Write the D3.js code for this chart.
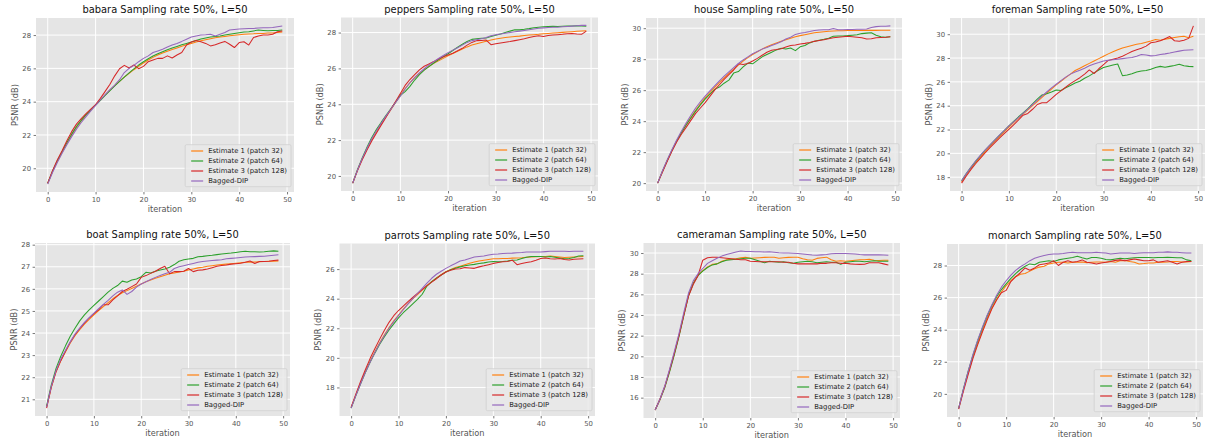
<!DOCTYPE html>
<html><head><meta charset="utf-8">
<script src="https://cdn.jsdelivr.net/npm/d3@7"></script>
<style>body{margin:0;background:#fff}svg{display:block}</style>
</head><body>
<svg id="chart" width="1206" height="444"></svg>
<script>
// ---------- DATA ----------
const iterations = [0,1,2,3,4,5,6,7,8,9,10,11,12,13,14,15,16,17,18,19,20,21,22,23,24,25,26,27,28,29,30,31,32,33,34,35,36,37,38,39,40,41,42,43,44,45,46,47,48,49];
const seriesNames = ["Estimate 1 (patch 32)","Estimate 2 (patch 64)","Estimate 3 (patch 128)","Bagged-DIP"];
const xTicks = [0,10,20,30,40,50];

const babara_e1 = [19.1,19.8,20.4,20.95,21.5,22.0,22.45,22.85,23.2,23.5, 23.8,24.1,24.4,24.7,24.97,25.22,25.47,25.7,25.92,26.12, 26.32,26.5,26.66,26.8,26.92,27.03,27.13,27.23,27.33,27.42, 27.5,27.58,27.66,27.72,27.78,27.84,27.88,27.92,27.96,27.99, 28.02,28.05,28.07,28.08,28.1,28.1,28.12,28.12,28.15,28.18];
const babara_e2 = [19.1,19.82,20.45,21.0,21.55,22.05,22.5,22.88,23.22,23.52, 23.8,24.08,24.38,24.67,24.95,25.22,25.48,25.73,25.97,26.2, 26.4,26.58,26.74,26.88,27.0,27.12,27.22,27.32,27.42,27.5, 27.58,27.68,27.76,27.82,27.88,27.92,27.95,28.0,28.05,28.1, 28.14,28.18,28.2,28.25,28.3,28.28,28.26,28.27,28.28,28.3];
const babara_e3 = [19.1,19.85,20.5,21.05,21.65,22.2,22.65,22.98,23.28,23.55, 23.82,24.2,24.62,25.05,25.55,25.98,26.18,26.02,26.2,25.98, 26.12,26.4,26.5,26.6,26.6,26.75,26.62,26.8,26.95,27.4, 27.58,27.68,27.6,27.5,27.35,27.42,27.52,27.62,27.45,27.25, 27.55,27.6,27.4,27.85,27.95,28.0,28.0,28.05,28.2,28.25];
const babara_bag = [19.05,19.75,20.35,20.9,21.42,21.9,22.35,22.75,23.1,23.45, 23.78,24.1,24.42,24.72,25.0,25.32,25.75,26.0,26.18,26.4, 26.6,26.75,26.95,27.05,27.15,27.28,27.4,27.5,27.62,27.75, 27.88,27.95,28.0,28.02,28.05,27.95,28.05,28.15,28.3,28.33, 28.36,28.38,28.4,28.4,28.42,28.44,28.44,28.45,28.5,28.55];

const peppers_e1 = [19.6,20.3,20.95,21.5,22.0,22.45,22.9,23.3,23.7,24.1, 24.5,24.88,25.2,25.48,25.72,25.92,26.12,26.28,26.42,26.56, 26.7,26.83,26.96,27.08,27.2,27.3,27.38,27.45,27.52,27.58, 27.64,27.68,27.72,27.75,27.78,27.8,27.83,27.86,27.88,27.9, 27.93,27.95,27.97,27.99,28.01,28.03,28.05,28.07,28.09,28.1];
const peppers_e2 = [19.6,20.35,21.0,21.6,22.15,22.6,23.0,23.38,23.75,24.12, 24.5,24.7,25.0,25.35,25.65,25.9,26.1,26.3,26.48,26.65, 26.82,27.0,27.18,27.35,27.5,27.62,27.65,27.68,27.7,27.78, 27.85,27.92,28.0,28.08,28.15,28.15,28.18,28.22,28.27,28.3, 28.32,28.34,28.35,28.34,28.35,28.36,28.37,28.38,28.37,28.35];
const peppers_e3 = [19.6,20.3,20.9,21.45,21.95,22.4,22.85,23.28,23.72,24.15, 24.6,25.05,25.38,25.65,25.92,26.12,26.25,26.38,26.52,26.65, 26.75,26.85,26.98,27.12,27.3,27.45,27.55,27.56,27.58,27.32, 27.38,27.42,27.46,27.5,27.55,27.6,27.65,27.72,27.78,27.82, 27.78,27.84,27.86,27.88,27.9,27.93,27.95,27.92,27.9,28.08];
const peppers_bag = [19.6,20.32,20.98,21.55,22.08,22.52,22.95,23.35,23.72,24.1, 24.45,24.85,25.2,25.48,25.75,25.98,26.2,26.38,26.55,26.72, 26.88,27.02,27.15,27.3,27.45,27.55,27.6,27.65,27.72,27.82, 27.88,27.92,27.96,28.0,28.04,28.08,28.12,28.16,28.2,28.24, 28.26,28.28,28.3,28.3,28.32,28.34,28.36,28.38,28.4,28.4];

const house_e1 = [20.0,20.75,21.45,22.1,22.7,23.25,23.78,24.25,24.7,25.12, 25.5,25.85,26.18,26.5,26.8,27.08,27.35,27.62,27.88,28.1, 28.3,28.48,28.65,28.8,28.93,29.05,29.15,29.25,29.35,29.45, 29.52,29.58,29.64,29.7,29.74,29.77,29.8,29.82,29.83,29.84, 29.85,29.85,29.85,29.85,29.86,29.86,29.86,29.87,29.87,29.87];
const house_e2 = [20.0,20.75,21.45,22.1,22.7,23.25,23.75,24.2,24.65,25.05, 25.42,25.75,26.05,26.2,26.45,26.65,27.1,27.2,27.5,27.75, 27.7,27.92,28.15,28.3,28.45,28.6,28.7,28.65,28.72,28.55, 28.8,28.88,29.05,29.15,29.22,29.28,29.35,29.48,29.5,29.5, 29.52,29.55,29.58,29.65,29.68,29.7,29.55,29.45,29.42,29.45];
const house_e3 = [20.0,20.7,21.4,22.05,22.65,23.15,23.6,24.05,24.5,24.85, 25.2,25.6,26.0,26.35,26.7,27.0,27.3,27.7,27.65,27.72, 27.88,28.05,28.25,28.45,28.58,28.62,28.68,28.78,28.88,28.92, 28.98,29.02,29.08,29.15,29.2,29.25,29.32,29.38,29.42,29.45, 29.48,29.45,29.42,29.38,29.3,29.32,29.38,29.4,29.42,29.45];
const house_bag = [20.0,20.78,21.5,22.15,22.78,23.35,23.88,24.38,24.85,25.25, 25.62,25.95,26.28,26.6,26.9,27.18,27.45,27.72,27.95,28.15, 28.35,28.5,28.65,28.75,28.88,29.0,29.12,29.3,29.42,29.6, 29.68,29.72,29.78,29.85,29.88,29.9,29.9,29.98,29.9,29.9, 29.92,29.92,29.93,29.93,29.95,30.05,30.1,30.12,30.13,30.15];

const foreman_e1 = [17.6,18.2,18.75,19.25,19.7,20.15,20.6,21.0,21.4,21.8, 22.2,22.58,22.95,23.3,23.65,24.0,24.35,24.7,25.05,25.4, 25.75,26.05,26.35,26.65,26.95,27.15,27.35,27.55,27.75,27.95, 28.15,28.35,28.52,28.7,28.85,28.95,29.05,29.15,29.22,29.32, 29.42,29.55,29.5,29.58,29.65,29.72,29.78,29.82,29.7,29.82];
const foreman_e2 = [17.7,18.3,18.85,19.35,19.82,20.28,20.7,21.1,21.5,21.9, 22.3,22.68,23.05,23.4,23.75,24.15,24.55,24.9,25.0,25.15, 25.32,25.28,25.5,25.7,25.9,26.05,26.3,26.5,26.75,27.0, 27.2,27.32,27.42,27.5,26.52,26.58,26.68,26.82,26.92,26.95, 27.05,27.2,27.3,27.22,27.3,27.38,27.48,27.35,27.3,27.28];
const foreman_e3 = [17.5,18.1,18.65,19.15,19.6,20.05,20.48,20.88,21.28,21.65, 22.02,22.4,22.78,23.2,23.35,23.7,24.1,24.25,24.25,24.6, 24.95,25.25,25.55,25.85,26.1,26.35,26.65,27.0,26.7,27.1, 27.45,27.8,27.9,28.0,28.15,28.35,28.55,28.7,28.82,29.0, 29.28,29.35,29.45,29.62,29.8,29.45,29.4,29.5,29.65,30.7];
const foreman_bag = [17.7,18.3,18.85,19.38,19.85,20.3,20.72,21.12,21.52,21.9, 22.3,22.65,23.0,23.35,23.72,24.1,24.45,24.8,25.15,25.5, 25.8,26.1,26.4,26.65,26.82,26.98,27.15,27.35,27.5,27.62, 27.75,27.82,27.85,27.9,27.95,28.0,28.05,28.15,28.3,28.25, 28.18,28.22,28.3,28.35,28.42,28.5,28.58,28.65,28.68,28.7];

const boat_e1 = [20.65,21.55,22.25,22.75,23.15,23.55,23.88,24.15,24.4,24.62, 24.82,25.02,25.2,25.38,25.55,25.7,25.82,25.92,26.02,26.12, 26.22,26.32,26.4,26.48,26.55,26.62,26.68,26.72,26.76,26.8, 26.85,26.9,26.95,26.98,27.02,27.05,27.08,27.1,27.12,27.14, 27.16,27.18,27.2,27.21,27.22,27.23,27.24,27.25,27.25,27.26];
const boat_e2 = [20.7,21.65,22.4,22.95,23.42,23.85,24.22,24.55,24.82,25.05, 25.25,25.45,25.65,25.85,26.02,26.15,26.35,26.3,26.4,26.45, 26.55,26.75,26.72,26.8,26.85,26.9,26.98,27.1,27.25,27.32, 27.35,27.38,27.45,27.47,27.5,27.52,27.55,27.58,27.6,27.62, 27.65,27.68,27.7,27.68,27.68,27.67,27.68,27.7,27.72,27.7];
const boat_e3 = [20.6,21.55,22.25,22.75,23.18,23.58,23.92,24.2,24.45,24.68, 24.88,25.05,25.28,25.28,25.5,25.68,25.88,25.98,26.1,26.22, 26.52,26.6,26.7,26.8,26.92,27.02,26.68,26.78,26.78,26.8, 26.92,26.78,26.84,26.86,26.9,26.96,27.02,27.06,27.08,27.12, 27.14,27.16,27.2,27.26,27.15,27.24,27.24,27.25,27.28,27.3];
const boat_bag = [20.65,21.6,22.3,22.82,23.22,23.6,23.95,24.22,24.48,24.7, 24.9,25.1,25.3,25.48,25.68,25.85,25.95,25.75,25.88,26.08, 26.22,26.32,26.42,26.52,26.6,26.68,26.75,26.92,27.0,27.05, 27.1,27.15,27.2,27.24,27.26,27.28,27.3,27.32,27.36,27.38, 27.4,27.42,27.44,27.45,27.46,27.47,27.48,27.5,27.52,27.54];

const parrots_e1 = [16.65,17.5,18.3,19.05,19.75,20.4,21.0,21.55,22.05,22.5, 22.9,23.3,23.65,23.98,24.28,24.58,24.88,25.15,25.4,25.62, 25.82,25.98,26.1,26.2,26.3,26.4,26.48,26.55,26.6,26.65, 26.7,26.7,26.72,26.72,26.74,26.75,26.77,26.8,26.82,26.83, 26.85,26.85,26.88,26.85,26.82,26.78,26.8,26.82,26.83,26.85];
const parrots_e2 = [16.6,17.45,18.25,19.0,19.7,20.32,20.9,21.42,21.88,22.3, 22.7,23.05,23.35,23.65,23.95,24.3,24.85,25.15,25.38,25.6, 25.8,25.95,26.05,26.15,26.22,26.28,26.32,26.38,26.42,26.48, 26.52,26.5,26.52,26.55,26.6,26.62,26.72,26.8,26.85,26.85, 26.85,26.82,26.85,26.8,26.75,26.7,26.72,26.78,26.88,26.9];
const parrots_e3 = [16.65,17.55,18.4,19.2,19.95,20.62,21.25,21.85,22.4,22.85, 23.2,23.5,23.8,24.08,24.35,24.62,24.88,25.12,25.35,25.6, 25.8,25.92,26.0,26.02,26.1,26.08,26.05,26.15,26.22,26.3, 26.38,26.45,26.5,26.52,26.6,26.3,26.38,26.45,26.5,26.6, 26.72,26.75,26.7,26.68,26.72,26.65,26.62,26.66,26.68,26.7];
const parrots_bag = [16.6,17.45,18.25,19.0,19.7,20.35,20.95,21.5,22.0,22.45, 22.85,23.25,23.65,24.0,24.35,24.7,25.05,25.38,25.65,25.85, 26.05,26.22,26.38,26.55,26.62,26.72,26.82,26.85,26.88,26.95, 27.0,27.02,27.05,27.07,27.08,27.1,27.12,27.15,27.15,27.16, 27.15,27.18,27.2,27.2,27.2,27.2,27.19,27.2,27.2,27.2];

const cameraman_e1 = [14.8,15.8,17.0,18.55,20.2,22.0,24.0,25.9,27.1,27.85, 28.3,28.65,28.9,28.95,29.2,29.35,29.4,29.45,29.55,29.6, 29.5,29.52,29.55,29.58,29.6,29.6,29.5,29.55,29.58,29.6, 29.6,29.45,29.35,29.3,29.48,29.55,29.6,29.35,29.2,29.25, 29.2,29.25,29.3,29.35,29.35,29.4,29.3,29.28,29.3,29.3];
const cameraman_e2 = [14.8,15.8,16.95,18.45,20.1,21.9,23.9,25.85,27.05,27.8, 28.25,28.6,28.85,28.95,29.15,29.3,29.35,29.4,29.45,29.5, 29.5,29.35,29.2,29.05,29.2,29.15,29.1,29.15,29.05,29.0, 29.1,29.15,29.2,29.15,29.05,29.1,29.15,29.1,29.1,28.9, 29.1,29.15,29.2,29.2,29.15,29.2,29.25,29.2,29.2,29.2];
const cameraman_e3 = [14.8,15.85,17.05,18.6,20.25,22.0,23.95,25.8,26.95,27.8, 29.3,29.55,29.6,29.6,29.55,29.5,29.45,29.4,29.35,29.35, 29.2,29.18,29.15,29.15,29.15,29.15,29.15,29.1,29.1,29.0, 28.95,28.95,28.95,28.95,28.95,29.0,29.0,29.05,29.05,29.0, 29.0,28.95,28.92,28.9,28.92,29.05,29.05,29.05,28.95,28.85];
const cameraman_bag = [14.8,15.85,17.1,18.7,20.4,22.2,24.2,26.1,27.3,28.0, 28.5,29.0,29.25,29.5,29.7,29.85,29.98,30.1,30.2,30.15, 30.15,30.12,30.12,30.1,30.12,30.08,30.02,30.0,30.0,29.98, 29.95,29.9,29.85,29.8,29.78,29.82,29.85,29.92,29.95,29.95, 29.95,29.92,29.9,29.85,29.82,29.82,29.82,29.82,29.8,29.78];

const monarch_e1 = [19.1,20.25,21.3,22.3,23.15,23.95,24.7,25.35,25.9,26.35, 26.75,27.05,27.3,27.45,27.5,27.65,27.8,27.9,27.95,28.1, 28.15,28.2,28.2,28.15,28.2,28.2,28.22,28.18,28.2,28.22, 28.22,28.2,28.25,28.2,28.3,28.32,28.25,28.2,28.1,28.12, 28.15,28.15,28.2,28.2,28.22,28.25,28.25,28.22,28.22,28.25];
const monarch_e2 = [19.1,20.3,21.4,22.4,23.3,24.1,24.85,25.5,26.05,26.5, 26.85,27.2,27.5,27.75,27.95,28.1,28.05,28.2,28.25,28.3, 28.25,28.35,28.4,28.45,28.5,28.58,28.48,28.4,28.5,28.5, 28.45,28.38,28.35,28.4,28.45,28.42,28.45,28.48,28.5,28.5, 28.5,28.48,28.5,28.5,28.52,28.5,28.48,28.48,28.35,28.3];
const monarch_e3 = [19.05,20.15,21.2,22.2,23.05,23.85,24.6,25.3,25.85,26.3, 26.45,27.0,27.3,27.55,27.85,27.7,27.85,28.05,28.1,28.15, 28.3,28.0,28.2,28.3,28.2,28.25,28.35,28.2,28.15,28.1, 28.15,28.2,28.25,28.32,28.35,28.3,28.35,28.4,28.35,28.3, 28.3,28.35,28.2,28.25,28.3,28.2,28.1,28.2,28.25,28.25];
const monarch_bag = [19.1,20.3,21.4,22.45,23.35,24.15,24.9,25.55,26.15,26.65, 27.05,27.4,27.7,27.92,28.1,28.3,28.45,28.55,28.62,28.68, 28.72,28.72,28.75,28.8,28.82,28.8,28.8,28.8,28.8,28.82, 28.8,28.78,28.72,28.75,28.78,28.78,28.78,28.75,28.78,28.8, 28.8,28.8,28.82,28.82,28.85,28.82,28.82,28.8,28.78,28.78];

const babaraTicks = [20,22,24,26,28];
const peppersTicks = [20,22,24,26,28];
const houseTicks = [20,22,24,26,28,30];
const foremanTicks = [18,20,22,24,26,28,30];
const boatTicks = [21,22,23,24,25,26,27,28];
const parrotsTicks = [18,20,22,24,26];
const cameramanTicks = [16,18,20,22,24,26,28,30];
const monarchTicks = [20,22,24,26,28];

const imageNames = ["babara","peppers","house","foreman","boat","parrots","cameraman","monarch"];

// ---------- LAYOUT / STYLE ----------
const colors = ["#ff7f0e","#2ca02c","#d62728","#9467bd"];
const panels = [
  {name:"babara",    s:[babara_e1,babara_e2,babara_e3,babara_bag],         ticks:babaraTicks,    box:[36,18,294,192]},
  {name:"peppers",   s:[peppers_e1,peppers_e2,peppers_e3,peppers_bag],     ticks:peppersTicks,   box:[341,17.5,598,191]},
  {name:"house",     s:[house_e1,house_e2,house_e3,house_bag],             ticks:houseTicks,     box:[646,18,902,191]},
  {name:"foreman",   s:[foreman_e1,foreman_e2,foreman_e3,foreman_bag],     ticks:foremanTicks,   box:[950,18,1205,191]},
  {name:"boat",      s:[boat_e1,boat_e2,boat_e3,boat_bag],                 ticks:boatTicks,      box:[35,243,290,416]},
  {name:"parrots",   s:[parrots_e1,parrots_e2,parrots_e3,parrots_bag],     ticks:parrotsTicks,   box:[339.5,243.5,595,416]},
  {name:"cameraman", s:[cameraman_e1,cameraman_e2,cameraman_e3,cameraman_bag], ticks:cameramanTicks, box:[643.5,243,900,418]},
  {name:"monarch",   s:[monarch_e1,monarch_e2,monarch_e3,monarch_bag],     ticks:monarchTicks,   box:[947,244,1203,417]}
];
const FONT = "DejaVu Sans";
const svg = d3.select("#chart");

panels.forEach(p => {
  const [L,T,R,B] = p.box;
  const all = p.s.flat();
  const lo = d3.min(all), hi = d3.max(all), m = (hi-lo)*0.05;
  const x = d3.scaleLinear().domain([-2.45, 51.45]).range([L,R]);
  const y = d3.scaleLinear().domain([lo-m, hi+m]).range([B,T]);
  const g = svg.append("g");

  g.append("rect").attr("x",L).attr("y",T).attr("width",R-L).attr("height",B-T).attr("fill","#e5e5e5");

  // grid
  g.selectAll(".gx").data(xTicks).join("line")
    .attr("x1",d=>x(d)).attr("x2",d=>x(d)).attr("y1",T).attr("y2",B)
    .attr("stroke","#fff").attr("stroke-width",1);
  g.selectAll(".gy").data(p.ticks).join("line")
    .attr("x1",L).attr("x2",R).attr("y1",d=>y(d)).attr("y2",d=>y(d))
    .attr("stroke","#fff").attr("stroke-width",1);

  // axes
  const xa = g.append("g").attr("transform",`translate(0,${B})`)
    .call(d3.axisBottom(x).tickValues(xTicks).tickSize(2.4).tickPadding(2.5).tickFormat(d3.format("d")));
  const ya = g.append("g").attr("transform",`translate(${L},0)`)
    .call(d3.axisLeft(y).tickValues(p.ticks).tickSize(2.4).tickPadding(2.5).tickFormat(d3.format("d")));
  [xa,ya].forEach(a=>{
    a.select(".domain").remove();
    a.selectAll("line").attr("stroke","#555").attr("stroke-width",0.8);
    a.selectAll("text").attr("fill","#555").style("font-family",FONT).style("font-size","6.9px");
  });

  // lines
  const line = d3.line().x((d,i)=>x(iterations[i])).y(d=>y(d));
  p.s.forEach((vals,k)=>{
    g.append("path").datum(vals).attr("d",line)
      .attr("fill","none").attr("stroke",colors[k]).attr("stroke-width",1.05)
      .attr("stroke-linejoin","round");
  });

  // title and labels
  g.append("text").attr("x",(L+R)/2).attr("y",T-4.6).attr("text-anchor","middle")
    .style("font-family",FONT).style("font-size","9.9px").attr("fill","#111")
    .text(`${p.name} Sampling rate 50%, L=50`);
  g.append("text").attr("x",(L+R)/2).attr("y",B+19.8).attr("text-anchor","middle")
    .style("font-family",FONT).style("font-size","8.2px").attr("fill","#555").text("iteration");
  g.append("text").attr("transform",`translate(${L-18.2},${(T+B)/2}) rotate(-90)`).attr("text-anchor","middle")
    .style("font-family",FONT).style("font-size","8.2px").attr("fill","#555").text("PSNR (dB)");

  // legend
  const lg = g.append("g");
  const box = lg.append("rect");
  const texts = seriesNames.map((n,k)=> lg.append("text").attr("x",23).attr("y",6.3+k*10+2.4)
    .style("font-family",FONT).style("font-size","6.85px").attr("fill","#222").text(n));
  seriesNames.forEach((n,k)=>{
    lg.append("line").attr("x1",6).attr("x2",18).attr("y1",6.3+k*10).attr("y2",6.3+k*10)
      .attr("stroke",colors[k]).attr("stroke-width",1.6).attr("stroke-opacity",0.75);
  });
  const tw = d3.max(texts, t=>t.node().getComputedTextLength());
  const bw = 23 + tw + 4, bh = 42;
  box.attr("x",0).attr("y",0).attr("width",bw).attr("height",bh).attr("rx",1.4)
    .attr("fill","#e9e9e9").attr("fill-opacity",0.85).attr("stroke","#cfcfcf").attr("stroke-width",0.8);
  lg.attr("transform",`translate(${R-3-bw},${B-5.3-bh})`);
});
</script>
</body></html>
